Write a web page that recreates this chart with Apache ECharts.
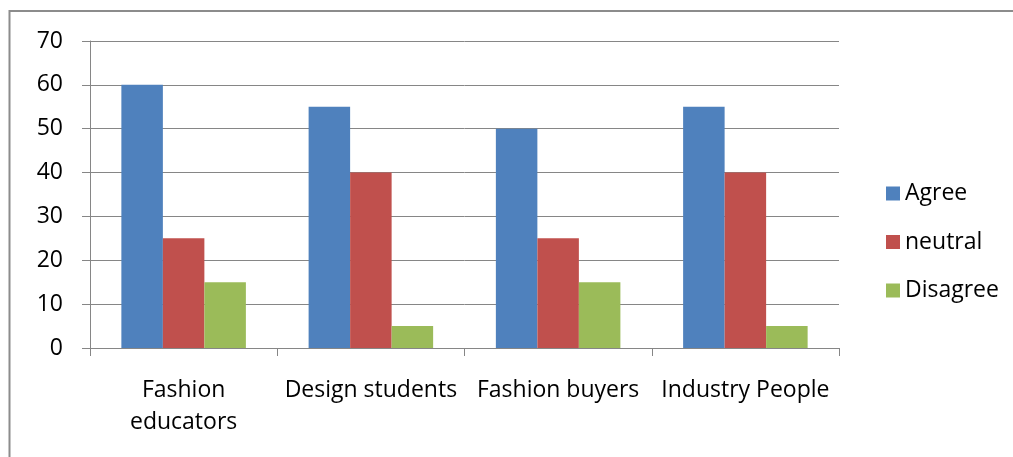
<!DOCTYPE html>
<html>
<head>
<meta charset="utf-8">
<script src="https://cdn.jsdelivr.net/npm/echarts@6/dist/echarts.min.js"></script>
<style>
  html, body { margin: 0; padding: 0; background: #fff; }
  #chart { width: 1013px; height: 457px; }
</style>
</head>
<body>
<div id="chart"></div>
<script>
var categories = ['Fashion\neducators', 'Design students', 'Fashion buyers', 'Industry People'];
var agree = [60, 55, 50, 55];
var neutral = [25, 40, 25, 40];
var disagree = [15, 5, 15, 5];
var yTicks = [0, 10, 20, 30, 40, 50, 60, 70];

var chart = echarts.init(document.getElementById('chart'));
var font = '"Open Sans", sans-serif';
var option = {
    animation: false,
    backgroundColor: '#fff',
    graphic: [{
        type: 'rect',
        shape: { x: 9.5, y: 11, width: 1020, height: 470 },
        style: { fill: 'none', stroke: '#8c8c8c', lineWidth: 2 },
        silent: true
    }],
    grid: { left: 90, right: 174, top: 41, bottom: 109 },
    legend: {
        orient: 'vertical',
        left: 881,
        top: 177,
        itemWidth: 14,
        itemHeight: 14,
        itemGap: 25.5,
        itemTextGap: 8,
        icon: 'rect',
        textStyle: { color: '#000', fontSize: 23, fontFamily: font },
        data: ['Agree', 'neutral', 'Disagree']
    },
    xAxis: {
        type: 'category',
        data: categories,
        axisLine: { lineStyle: { color: '#868686', width: 1 } },
        axisTick: { show: true, length: 8, interval: 0, lineStyle: { color: '#868686' } },
        axisLabel: {
            interval: 0, margin: 26, color: '#000',
            fontSize: 23, lineHeight: 32, fontFamily: font
        },
        splitLine: { show: false }
    },
    yAxis: {
        type: 'value',
        min: yTicks[0],
        max: yTicks[yTicks.length - 1],
        interval: 10,
        axisLine: { show: true, lineStyle: { color: '#868686', width: 1 } },
        axisTick: { show: true, length: 8, lineStyle: { color: '#868686' } },
        axisLabel: { margin: 27, color: '#000', fontSize: 23, fontFamily: font },
        splitLine: { lineStyle: { color: '#868686', width: 1 } }
    },
    series: [
        { name: 'Agree', type: 'bar', data: agree, barGap: '0%', barCategoryGap: '33.5%',
          itemStyle: { color: '#4F81BD' } },
        { name: 'neutral', type: 'bar', data: neutral, barGap: '0%', barCategoryGap: '33.5%',
          itemStyle: { color: '#C0504D' } },
        { name: 'Disagree', type: 'bar', data: disagree, barGap: '0%', barCategoryGap: '33.5%',
          itemStyle: { color: '#9BBB59' } }
    ]
};
chart.setOption(option);
</script>
</body>
</html>
